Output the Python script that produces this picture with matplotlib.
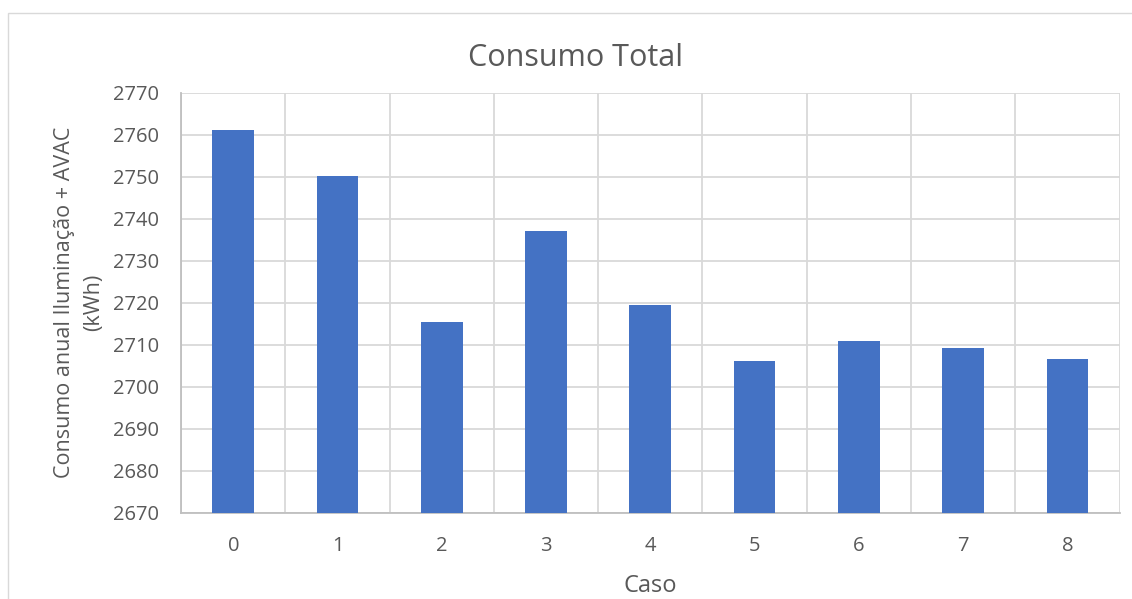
import numpy as np
import matplotlib
from matplotlib import pyplot as plt
from matplotlib.patches import Rectangle

matplotlib.rc('font', family=['Open Sans', 'DejaVu Sans'])

casos = ['0', '1', '2', '3', '4', '5', '6', '7', '8']
consumo = [2761.1, 2750.2, 2715.4, 2737.1, 2719.4, 2706.1, 2710.8, 2709.2, 2706.6]

txt = '#595959'
grid = '#d9d9d9'

fig = plt.figure(figsize=(11.32, 5.99), dpi=100)
ax = fig.add_axes([0.160, 0.144, 0.829, 0.701])

x = np.arange(len(casos))
ax.bar(x, np.array(consumo) - 2670, bottom=2670, width=0.4, color='#4472c4', zorder=3)

ax.set_xlim(-0.5, len(casos) - 0.5)
ax.set_ylim(2670, 2770)
ax.set_yticks(np.arange(2670, 2771, 10))
ax.set_xticks(x)
ax.set_xticklabels(casos)
ax.set_xticks(np.arange(-0.5, len(casos), 1), minor=True)
ax.grid(True, axis='y', color=grid, lw=1.3, zorder=0)
ax.grid(True, axis='x', which='minor', color=grid, lw=1.3, zorder=0)
ax.tick_params(which='both', length=0, labelsize=14.5, colors=txt)
ax.tick_params(axis='y', pad=16)
ax.tick_params(axis='x', pad=17)
for s in ['top', 'right']:
    ax.spines[s].set_visible(False)
for s in ['left', 'bottom']:
    ax.spines[s].set_color('#bfbfbf')
    ax.spines[s].set_linewidth(1.3)

# title is centred on the chart area, not on the plot area
fig.text(576 / 1132, 1 - 58 / 599, 'Consumo Total', fontsize=22, color=txt,
         ha='center', va='center')
ax.set_xlabel('Caso', fontsize=17, color=txt, labelpad=13)
ax.set_ylabel('Consumo anual Iluminação + AVAC\n(kWh)', fontsize=15.5, color=txt,
              labelpad=6, linespacing=1.5)

fig.patches.append(Rectangle((8 / 1132, -0.1), 1.2, 1 - 13 / 599 + 0.1,
                             transform=fig.transFigure, fill=False,
                             edgecolor=grid, lw=1))

fig.savefig('out.png', dpi=100)
